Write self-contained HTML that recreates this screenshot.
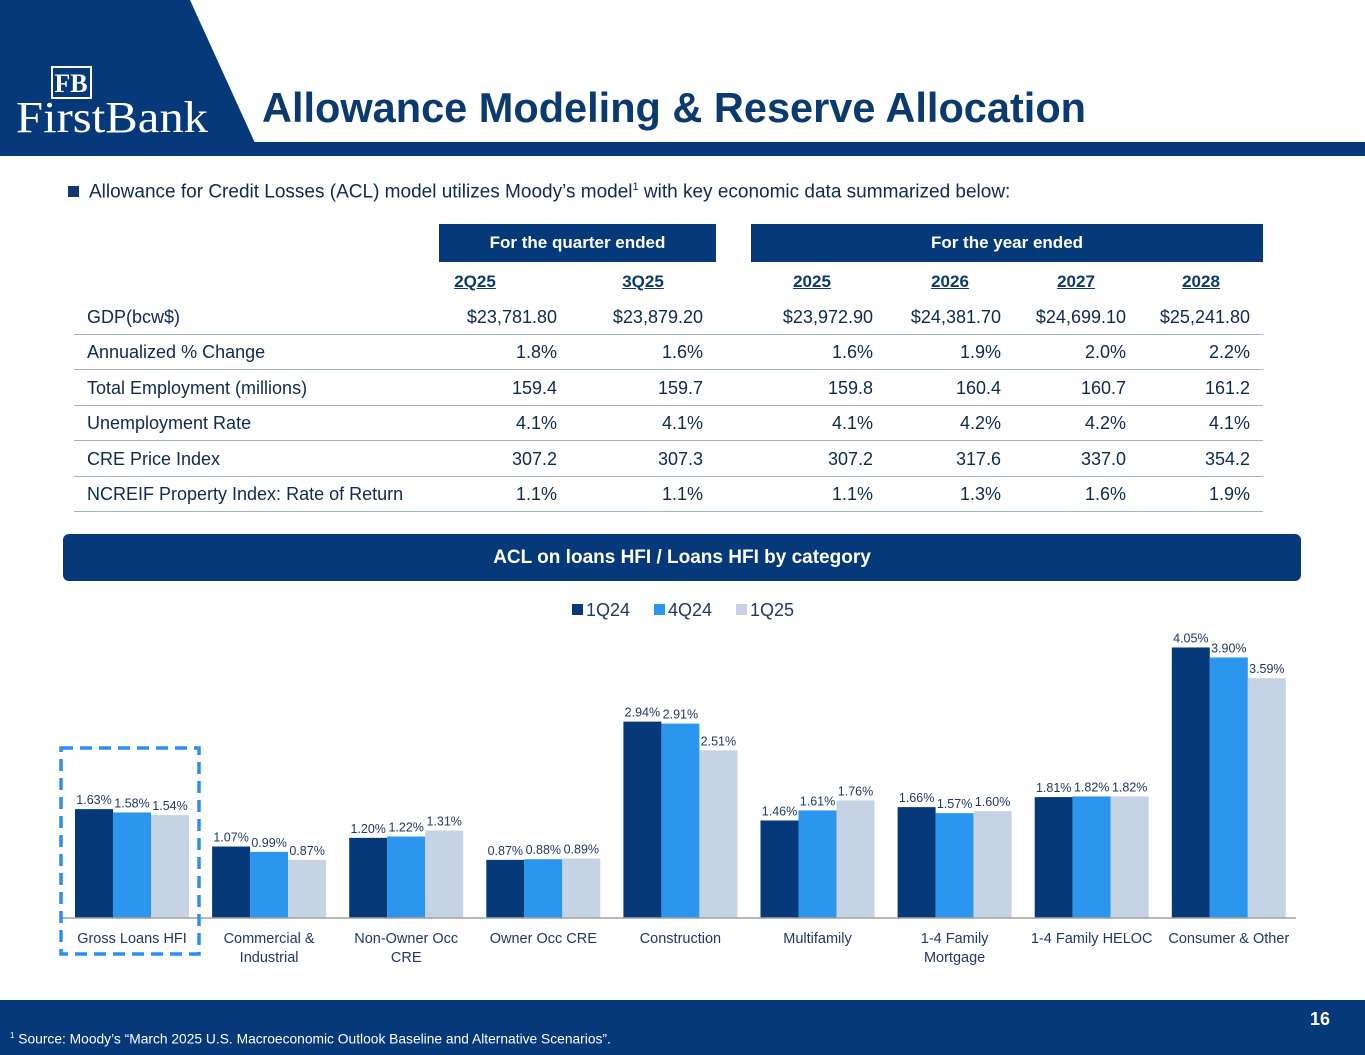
<!DOCTYPE html>
<html><head><meta charset="utf-8"><style>
body{margin:0;width:1365px;height:1055px;position:relative;overflow:hidden;background:#fff;font-family:"Liberation Sans",sans-serif;color:#1f3864}
.abs{position:absolute}
.r{position:absolute;left:74px;width:1189px;height:35px;border-bottom:1px solid #9fb3c8;font-size:18px;color:#0d2a4f}
.r span{position:absolute;top:8px}
.r span.v{text-align:right;width:140px}
.yh{position:absolute;top:272px;font-size:17px;font-weight:bold;color:#0b3a6e;text-decoration:underline;width:120px;text-align:center}
</style></head><body>
<svg class="abs" style="left:0;top:0" width="1365" height="160">
<polygon points="0,0 190,0 255,143 0,143" fill="#06397a"/>
<rect x="0" y="142" width="1365" height="14" fill="#06397a"/>
<rect x="52" y="67" width="39" height="31" fill="none" stroke="#fff" stroke-width="2"/>
<text x="71" y="92" font-family="Liberation Serif" font-size="26" fill="#fff" text-anchor="middle" font-weight="bold">FB</text>
<text x="16" y="132" font-family="Liberation Serif" font-size="44" fill="#fff" textLength="192" lengthAdjust="spacingAndGlyphs">FirstBank</text>
</svg>
<div class="abs" style="left:262px;top:84px;font-size:41.5px;font-weight:bold;color:#0b3a6e">Allowance Modeling &amp; Reserve Allocation</div>
<div class="abs" style="left:68px;top:181px;font-size:19px;color:#0d2a4f"><span style="display:inline-block;width:11px;height:11px;background:#0b3a6e;margin-right:10px"></span>Allowance for Credit Losses (ACL) model utilizes Moody’s model<sup style="font-size:11px">1</sup> with key economic data summarized below:</div>
<div class="abs" style="left:439px;top:224px;width:277px;height:38px;background:#06397a;color:#fff;font-weight:bold;font-size:17px;text-align:center;line-height:38px">For the quarter ended</div>
<div class="abs" style="left:751px;top:224px;width:512px;height:38px;background:#06397a;color:#fff;font-weight:bold;font-size:17px;text-align:center;line-height:38px">For the year ended</div>
<div class="yh" style="left:415px">2Q25</div>
<div class="yh" style="left:583px">3Q25</div>
<div class="yh" style="left:752px">2025</div>
<div class="yh" style="left:890px">2026</div>
<div class="yh" style="left:1016px">2027</div>
<div class="yh" style="left:1141px">2028</div>
<div id="rows"></div>
<div class="abs" style="left:63px;top:534px;width:1238px;height:47px;background:#06397a;border-radius:6px;color:#fff;font-weight:bold;font-size:19px;text-align:center;line-height:47px">ACL on loans HFI / Loans HFI by category</div>
<svg id="chart" class="abs" style="left:0;top:590px" width="1365" height="400"></svg>
<div class="abs" style="left:0;top:1000px;width:1365px;height:55px;background:#06397a"></div>
<div class="abs" style="left:1310px;top:1009px;color:#fff;font-weight:bold;font-size:18px">16</div>
<div class="abs" style="left:10px;top:1031px;color:#fff;font-size:13.8px"><sup style="font-size:8px">1</sup> Source: Moody’s “March 2025 U.S. Macroeconomic Outlook Baseline and Alternative Scenarios”.</div>
<script>
const rowLabels=["GDP(bcw$)","Annualized % Change","Total Employment (millions)","Unemployment Rate","CRE Price Index","NCREIF Property Index: Rate of Return"];
const rowValues=[["$23,781.80","$23,879.20","$23,972.90","$24,381.70","$24,699.10","$25,241.80"],["1.8%","1.6%","1.6%","1.9%","2.0%","2.2%"],["159.4","159.7","159.8","160.4","160.7","161.2"],["4.1%","4.1%","4.1%","4.2%","4.2%","4.1%"],["307.2","307.3","307.2","317.6","337.0","354.2"],["1.1%","1.1%","1.1%","1.3%","1.6%","1.9%"]];
const colRight=[557,703,873,1001,1126,1250];
const rc=document.getElementById('rows');
rowLabels.forEach((l,i)=>{const d=document.createElement('div');d.className='r';d.style.top=(299+i*35.4)+'px';


let h='<span style="left:13px">'+l+'</span>';rowValues[i].forEach((v,j)=>{h+='<span class="v" style="left:'+(colRight[j]-74-140)+'px">'+v+'</span>';});d.innerHTML=h;rc.appendChild(d);});

const categories=["Gross Loans HFI","Commercial &|Industrial","Non-Owner Occ|CRE","Owner Occ CRE","Construction","Multifamily","1-4 Family|Mortgage","1-4 Family HELOC","Consumer & Other"];
const s1Q24=[1.63,1.07,1.20,0.87,2.94,1.46,1.66,1.81,4.05];
const s4Q24=[1.58,0.99,1.22,0.88,2.91,1.61,1.57,1.82,3.90];
const s1Q25=[1.54,0.87,1.31,0.89,2.51,1.76,1.60,1.82,3.59];
const seriesNames=["1Q24","4Q24","1Q25"];
const colors=["#06397a","#2b96ee","#c5d3e5"];
const svg=document.getElementById('chart');const NS='http://www.w3.org/2000/svg';
const base=328, k=66.8, x0=75, pitch=137.1, bw=38;
const y=v=>base-v*k;
function el(t,a){const e=document.createElementNS(NS,t);for(const q in a)e.setAttribute(q,a[q]);svg.appendChild(e);return e;}
[s1Q24,s4Q24,s1Q25].forEach((s,si)=>{s.forEach((v,i)=>{const x=x0+i*pitch+si*bw;
const r=el('rect',{x:x,y:y(v),width:bw,height:v*k,fill:colors[si]});


const t=el('text',{x:x+bw/2,y:y(v)-5,'font-size':12.5,fill:'#1f3864','text-anchor':'middle'});t.textContent=v.toFixed(2)+'%';

});});
const ax=el('line',{x1:62,x2:1296,y1:base,y2:base,stroke:'#a0a0a0','stroke-width':1.5});


categories.forEach((c,i)=>{c.split('|').forEach((ln,j)=>{const t=el('text',{x:x0+i*pitch+57,y:base+25+j*19,'font-size':14.5,fill:'#1f3864','text-anchor':'middle'});t.textContent=ln;

});});
const box=el('rect',{x:61,y:158,width:138,height:206,fill:'none',stroke:'#2b8ff0','stroke-width':3.5,'stroke-dasharray':'12,7'});


const lx=[572,654,736];
seriesNames.forEach((n,i)=>{const r=el('rect',{x:lx[i],y:14,width:11,height:11,fill:colors[i]});


const t=el('text',{x:lx[i]+14,y:26,'font-size':18,fill:'#1f3864'});t.textContent=n;

});
</script>
</body></html>
